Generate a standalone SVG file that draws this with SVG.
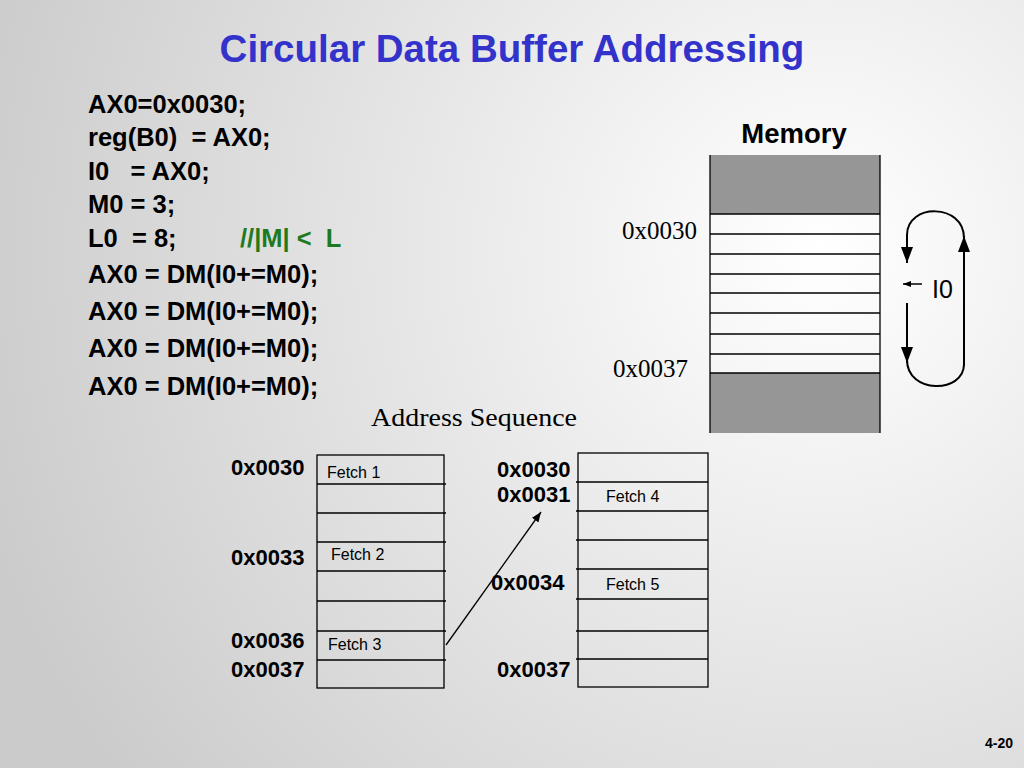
<svg xmlns="http://www.w3.org/2000/svg" width="1024" height="768" viewBox="0 0 1024 768">
<defs>
<radialGradient id="bg" gradientUnits="userSpaceOnUse" cx="820" cy="250" r="880">
<stop offset="0" stop-color="#ffffff"/>
<stop offset="1" stop-color="#cbcbcb"/>
</radialGradient>
<marker id="ah" markerUnits="userSpaceOnUse" markerWidth="16" markerHeight="12" refX="16" refY="6" orient="auto">
<path d="M0,0 L16,6 L0,12 z" fill="#000"/>
</marker>
<marker id="ahs" markerUnits="userSpaceOnUse" markerWidth="10" markerHeight="8" refX="10" refY="4" orient="auto">
<path d="M0,0 L10,4 L0,8 z" fill="#000"/>
</marker>
<marker id="ahx" markerUnits="userSpaceOnUse" markerWidth="8" markerHeight="6" refX="8" refY="3" orient="auto">
<path d="M0,0 L8,3 L0,6 z" fill="#000"/>
</marker>
</defs>
<style>
.code{font-family:"Liberation Sans",Arial,sans-serif;font-weight:bold;font-size:25.5px;fill:#000;white-space:pre}
.green{fill:#1f7a1f}
.addr{font-family:"Liberation Sans",Arial,sans-serif;font-weight:bold;font-size:22px;fill:#000}
.fetch{font-family:"Liberation Sans",Arial,sans-serif;font-size:16px;fill:#000}
.serif{font-family:"Liberation Serif","Times New Roman",serif;fill:#000}
.cell{fill:none;stroke:#000;stroke-width:1.3}
.ln{stroke:#000;stroke-width:1.3}
.loop{fill:none;stroke:#000;stroke-width:2}
</style>
<rect x="0" y="0" width="1024" height="768" fill="url(#bg)"/>

<g id="title">
<text x="512" y="62" text-anchor="middle" font-family="Liberation Sans,Arial,sans-serif" font-weight="bold" font-size="38.5" fill="#3333CC">Circular Data Buffer Addressing</text>
</g>

<g id="code">
<text class="code" x="88" y="113">AX0=0x0030;</text>
<text class="code" x="88" y="146" xml:space="preserve">reg(B0)  = AX0;</text>
<text class="code" x="88" y="180" xml:space="preserve">I0   = AX0;</text>
<text class="code" x="88" y="213">M0 = 3;</text>
<text class="code" x="88" y="247" xml:space="preserve">L0  = 8;</text>
<text class="code green" x="240" y="247" xml:space="preserve">//|M| &lt;  L</text>
<text class="code" x="88" y="283">AX0 = DM(I0+=M0);</text>
<text class="code" x="88" y="320">AX0 = DM(I0+=M0);</text>
<text class="code" x="88" y="357">AX0 = DM(I0+=M0);</text>
<text class="code" x="88" y="395">AX0 = DM(I0+=M0);</text>
</g>

<g id="memory">
<text x="794" y="143" text-anchor="middle" font-family="Liberation Sans,Arial,sans-serif" font-weight="bold" font-size="27.5" fill="#000">Memory</text>
<rect x="710" y="155" width="170" height="59" fill="#969696"/>
<rect x="710" y="373" width="170" height="60" fill="#969696"/>
<line class="ln" x1="710" y1="155" x2="710" y2="433"/>
<line class="ln" x1="880" y1="155" x2="880" y2="433"/>
<line class="ln" x1="710" y1="214" x2="880" y2="214"/>
<line class="ln" x1="710" y1="234" x2="880" y2="234"/>
<line class="ln" x1="710" y1="254" x2="880" y2="254"/>
<line class="ln" x1="710" y1="274" x2="880" y2="274"/>
<line class="ln" x1="710" y1="293" x2="880" y2="293"/>
<line class="ln" x1="710" y1="313" x2="880" y2="313"/>
<line class="ln" x1="710" y1="334" x2="880" y2="334"/>
<line class="ln" x1="710" y1="354" x2="880" y2="354"/>
<line class="ln" x1="710" y1="373" x2="880" y2="373"/>
<text class="serif" x="622" y="239" font-size="25">0x0030</text>
<text class="serif" x="613" y="377" font-size="25">0x0037</text>
</g>

<g id="loop">
<path class="loop" d="M964,366 L964,236" marker-end="url(#ah)"/>
<path class="loop" d="M964,238 C964,203 907,203 907,235 L907,263" marker-end="url(#ah)"/>
<path class="loop" d="M907,303 L907,363" marker-end="url(#ah)"/>
<path class="loop" d="M907,360 C907,394 964,394 964,364"/>
<line x1="922" y1="284" x2="903" y2="284" stroke="#000" stroke-width="1.5" marker-end="url(#ahx)"/>
<text x="932" y="298" font-family="Liberation Sans,Arial,sans-serif" font-size="25" fill="#000">I0</text>
</g>

<g id="address-sequence">
<text class="serif" x="371" y="426" font-size="26" textLength="206" lengthAdjust="spacingAndGlyphs">Address Sequence</text>
</g>

<g id="table-left">
<rect class="cell" x="317" y="455" width="127" height="233"/>
<line class="ln" x1="317" y1="484" x2="446" y2="484"/>
<line class="ln" x1="317" y1="513" x2="446" y2="513"/>
<line class="ln" x1="317" y1="542" x2="446" y2="542"/>
<line class="ln" x1="317" y1="571" x2="446" y2="571"/>
<line class="ln" x1="317" y1="601" x2="446" y2="601"/>
<line class="ln" x1="317" y1="631" x2="446" y2="631"/>
<line class="ln" x1="317" y1="660" x2="446" y2="660"/>
<text class="addr" x="231" y="475">0x0030</text>
<text class="addr" x="231" y="565">0x0033</text>
<text class="addr" x="231" y="648">0x0036</text>
<text class="addr" x="231" y="677">0x0037</text>
<text class="fetch" x="327" y="478">Fetch 1</text>
<text class="fetch" x="331" y="560">Fetch 2</text>
<text class="fetch" x="328" y="650">Fetch 3</text>
</g>

<g id="table-right">
<rect class="cell" x="578" y="453" width="130" height="234"/>
<line class="ln" x1="576" y1="482" x2="708" y2="482"/>
<line class="ln" x1="576" y1="511" x2="708" y2="511"/>
<line class="ln" x1="576" y1="540" x2="708" y2="540"/>
<line class="ln" x1="576" y1="569" x2="708" y2="569"/>
<line class="ln" x1="576" y1="599" x2="708" y2="599"/>
<line class="ln" x1="576" y1="631" x2="708" y2="631"/>
<line class="ln" x1="576" y1="659" x2="708" y2="659"/>
<text class="addr" x="497" y="477">0x0030</text>
<text class="addr" x="497" y="502">0x0031</text>
<text class="addr" x="491" y="590">0x0034</text>
<text class="addr" x="497" y="677">0x0037</text>
<text class="fetch" x="606" y="502">Fetch 4</text>
<text class="fetch" x="606" y="590">Fetch 5</text>
</g>

<g id="connectors">
<line x1="446" y1="645" x2="541" y2="512" stroke="#000" stroke-width="1.3" marker-end="url(#ahs)"/>
</g>

<g id="page-number">
<text x="1013" y="748" text-anchor="end" font-family="Liberation Sans,Arial,sans-serif" font-weight="bold" font-size="14" fill="#000">4-20</text>
</g>
</svg>
